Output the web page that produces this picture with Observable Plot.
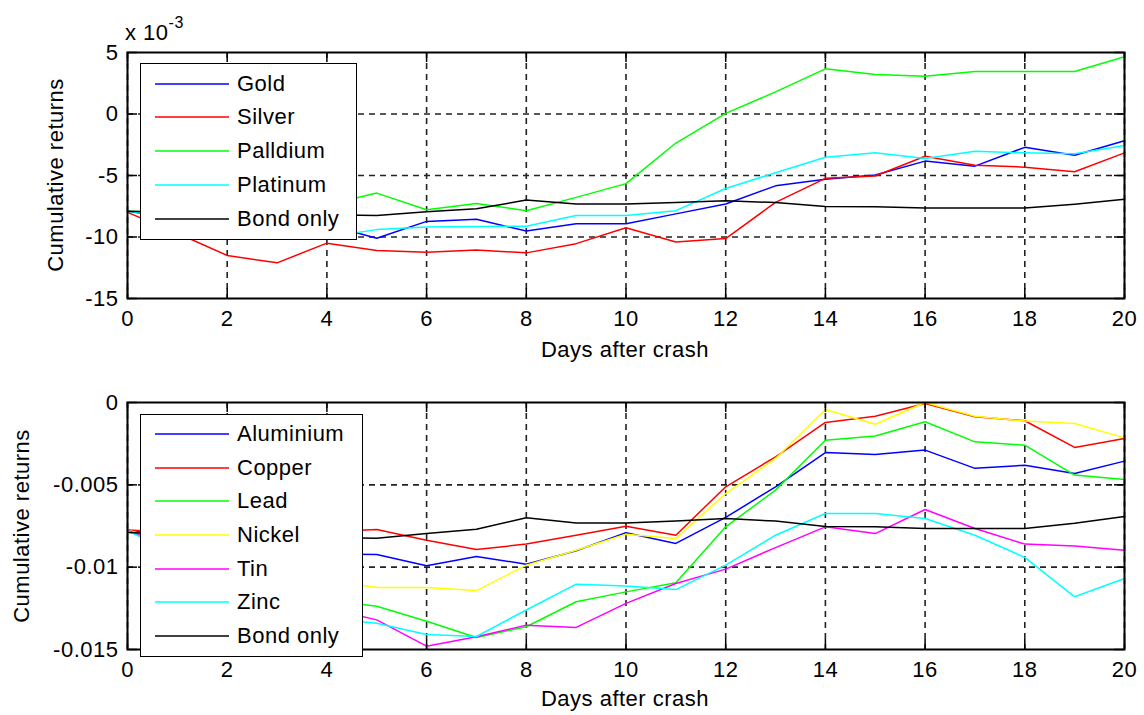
<!DOCTYPE html>
<html><head><meta charset="utf-8">
<script src="https://cdn.jsdelivr.net/npm/d3@7"></script>
<script src="https://cdn.jsdelivr.net/npm/@observablehq/plot@0.6"></script>
<style>
body{margin:0;background:#fff;}
#fig{position:relative;width:1144px;height:715px;background:#fff;font-family:"Liberation Sans",Arial,sans-serif;font-size:22px;letter-spacing:0.5px;color:#000;overflow:hidden}
.panel{position:absolute;left:0}
.legend{position:absolute;background:#fff;border:1.5px solid #000;box-sizing:border-box}
.row{position:absolute;left:0;height:34px;display:flex;align-items:center;white-space:nowrap}
.swatch{display:block;margin-left:14px;margin-right:8px}
.ylab{position:absolute;white-space:nowrap;transform:translate(-50%,-50%) rotate(-90deg)}
.xlab{position:absolute;white-space:nowrap;transform:translate(-50%,-50%)}
.exp{position:absolute;white-space:nowrap}
</style></head><body><div id="fig"></div>
<script>
// ---- data ----
const days = [0,1,2,3,4,5,6,7,8,9,10,11,12,13,14,15,16,17,18,19,20];
const xTicks = [0,2,4,6,8,10,12,14,16,18,20];

// top panel: precious metals (values in units of 1e-3)
const topNames  = ["Gold","Silver","Palldium","Platinum","Bond only"];
const topColors = ["#0000ff","#ff0000","#00ff00","#00ffff","#000000"];
const gold      = [-7.9,-8.5,-9.0,-9.3,-9.0,-10.1,-8.73,-8.55,-9.52,-8.93,-8.93,-8.12,-7.32,-5.84,-5.31,-4.96,-3.83,-4.24,-2.71,-3.35,-2.17];
const silver    = [-8.0,-9.7,-11.5,-12.1,-10.5,-11.1,-11.24,-11.05,-11.29,-10.54,-9.25,-10.4,-10.13,-7.18,-5.23,-5.04,-3.43,-4.16,-4.32,-4.69,-3.16];
const palladium = [-7.9,-8.0,-7.7,-7.6,-7.4,-6.43,-7.78,-7.27,-7.86,-6.78,-5.66,-2.36,0.05,1.8,3.67,3.22,3.06,3.46,3.46,3.46,4.66];
const platinum  = [-7.9,-8.4,-8.9,-9.2,-10.0,-9.4,-9.19,-9.15,-9.12,-8.26,-8.26,-7.86,-6.06,-4.77,-3.51,-3.16,-3.62,-3.03,-3.16,-3.24,-2.57];
const bondOnly  = [-7.9,-8.0,-8.1,-8.2,-8.2,-8.25,-7.95,-7.7,-7.0,-7.32,-7.32,-7.2,-7.05,-7.2,-7.53,-7.55,-7.65,-7.65,-7.65,-7.33,-6.93];
const topYTicks = [-15,-10,-5,0,5];
const topYGrid  = [-10,-5,0];

// bottom panel: base metals (values in units of 1e-3)
const botNames  = ["Aluminium","Copper","Lead","Nickel","Tin","Zinc","Bond only"];
const botColors = ["#0000ff","#ff0000","#00ff00","#ffff00","#ff00ff","#00ffff","#000000"];
const aluminium = [-7.75,-8.2,-8.6,-8.9,-9.2,-9.23,-9.92,-9.35,-9.82,-9.0,-7.91,-8.56,-6.98,-5.12,-3.04,-3.16,-2.89,-4.0,-3.81,-4.31,-3.56];
const copper    = [-7.75,-7.9,-8.0,-7.9,-7.85,-7.71,-8.36,-8.93,-8.6,-8.06,-7.51,-8.06,-5.12,-3.3,-1.21,-0.83,-0.06,-0.87,-1.11,-2.73,-2.19];
const lead      = [-7.75,-8.8,-10.0,-11.0,-12.0,-12.37,-13.28,-14.27,-13.62,-12.1,-11.5,-10.95,-7.55,-5.32,-2.29,-2.04,-1.17,-2.39,-2.59,-4.41,-4.68];
const nickel    = [-7.75,-8.5,-9.3,-10.0,-10.8,-11.23,-11.23,-11.42,-9.88,-8.97,-8.0,-8.26,-5.53,-3.4,-0.43,-1.32,0,-0.83,-1.13,-1.28,-2.15];
const tin       = [-7.75,-9.0,-10.2,-11.3,-12.5,-13.2,-14.8,-14.23,-13.52,-13.66,-12.2,-10.99,-10.12,-8.81,-7.55,-7.96,-6.5,-7.65,-8.6,-8.72,-8.97];
const zinc      = [-7.8,-9.2,-10.5,-11.8,-13.1,-13.4,-14.09,-14.21,-12.6,-11.03,-11.15,-11.36,-9.88,-8.06,-6.74,-6.74,-7.04,-8.06,-9.41,-11.8,-10.69];
const botYTicks = [-0.015,-0.01,-0.005,0];
const botYGrid  = [-0.01,-0.005];

// ---- drawing ----
const W = 1144, mL = 127, mR = 20, mT = 52, TICK = 10;
const fig = document.getElementById("fig");
const SVGNS = "http://www.w3.org/2000/svg";

function panel(names, colors, series, scale, yDomain, yTicks, yGrid, fmt, height, marginBottom, top) {
  const data = [];
  names.forEach((n, i) => series[i].forEach((v, d) => data.push({series: n, day: days[d], value: v * scale})));
  const iw = W - mL - mR, ih = height - mT - marginBottom;
  const ink = {stroke: "black", strokeWidth: 1.5};
  const grid = {stroke: "#222", strokeWidth: 1.6, strokeDasharray: "6,5"};
  const svg = Plot.plot({
    width: W, height, marginLeft: mL, marginRight: mR, marginTop: mT, marginBottom,
    style: {fontFamily: '"Liberation Sans", Arial, sans-serif', fontSize: "22px", color: "black", background: "transparent", overflow: "visible", letterSpacing: "0.5px"},
    x: {domain: [0, 20]},
    y: {domain: yDomain},
    color: {domain: names, range: colors},
    marks: [
      Plot.ruleX(xTicks, {x: d => d, ...grid}),
      Plot.ruleY(yGrid, {y: d => d, ...grid}),
      Plot.line(data, {x: "day", y: "value", z: "series", stroke: "series", strokeWidth: 1.5}),
      Plot.tickX(xTicks, {x: d => d, ...ink, insetTop: ih - TICK}),
      Plot.tickX(xTicks, {x: d => d, ...ink, insetBottom: ih - TICK}),
      Plot.tickY(yTicks, {y: d => d, ...ink, insetRight: iw - TICK}),
      Plot.tickY(yTicks, {y: d => d, ...ink, insetLeft: iw - TICK}),
      Plot.frame({stroke: "black", strokeWidth: 2}),
      Plot.axisX(xTicks, {tickSize: 0, tickPadding: 12, label: null, tickFormat: d => String(d)}),
      Plot.axisY(yTicks, {tickSize: 0, tickPadding: 9, label: null, tickFormat: fmt})
    ]
  });
  const wrap = document.createElement("div");
  wrap.className = "panel";
  wrap.style.top = top + "px";
  wrap.appendChild(svg);
  fig.appendChild(wrap);
}

function legend(names, colors, left, top, width, height, firstCenter, step) {
  const box = document.createElement("div");
  box.className = "legend";
  Object.assign(box.style, {left: left + "px", top: top + "px", width: width + "px", height: height + "px"});
  names.forEach((n, i) => {
    const row = document.createElement("div");
    row.className = "row";
    row.style.top = Math.round(firstCenter + i * step - 17) + "px";
    const sw = document.createElementNS(SVGNS, "svg");
    sw.setAttribute("class", "swatch");
    sw.setAttribute("width", "74");
    sw.setAttribute("height", "4");
    const ln = document.createElementNS(SVGNS, "line");
    ln.setAttribute("x1", "0"); ln.setAttribute("x2", "74");
    ln.setAttribute("y1", "2"); ln.setAttribute("y2", "2");
    ln.setAttribute("stroke", colors[i]);
    ln.setAttribute("stroke-width", "1.5");
    sw.appendChild(ln);
    const tx = document.createElement("span");
    tx.textContent = n;
    row.appendChild(sw); row.appendChild(tx);
    box.appendChild(row);
  });
  fig.appendChild(box);
}

function label(cls, text, x, y) {
  const el = document.createElement("div");
  el.className = cls;
  el.textContent = text;
  el.style.left = x + "px"; el.style.top = y + "px";
  fig.appendChild(el);
}

panel(topNames, topColors, [gold, silver, palladium, platinum, bondOnly], 1,
      [-15, 5], topYTicks, topYGrid, d => String(d), 350, 52, 0);
panel(botNames, botColors, [aluminium, copper, lead, nickel, tin, zinc, bondOnly], 1e-3,
      [-0.015, 0], botYTicks, botYGrid, d => String(d), 365, 66, 350);

legend(topNames, topColors, 140, 63, 217, 177, 19.5, 33.75);
legend(botNames, botColors, 140, 414, 223, 243, 18.8, 33.7);

label("xlab", "Days after crash", 625, 350);
label("xlab", "Days after crash", 625, 699);
label("ylab", "Cumulative returns", 56, 175);
label("ylab", "Cumulative returns", 22, 526);

const ex = document.createElement("div");
ex.className = "exp";
ex.style.left = "125px"; ex.style.top = "20px";
ex.innerHTML = 'x 10<span style="position:relative;top:-12px;font-size:16px;">-3</span>';
fig.appendChild(ex);
</script></body></html>
